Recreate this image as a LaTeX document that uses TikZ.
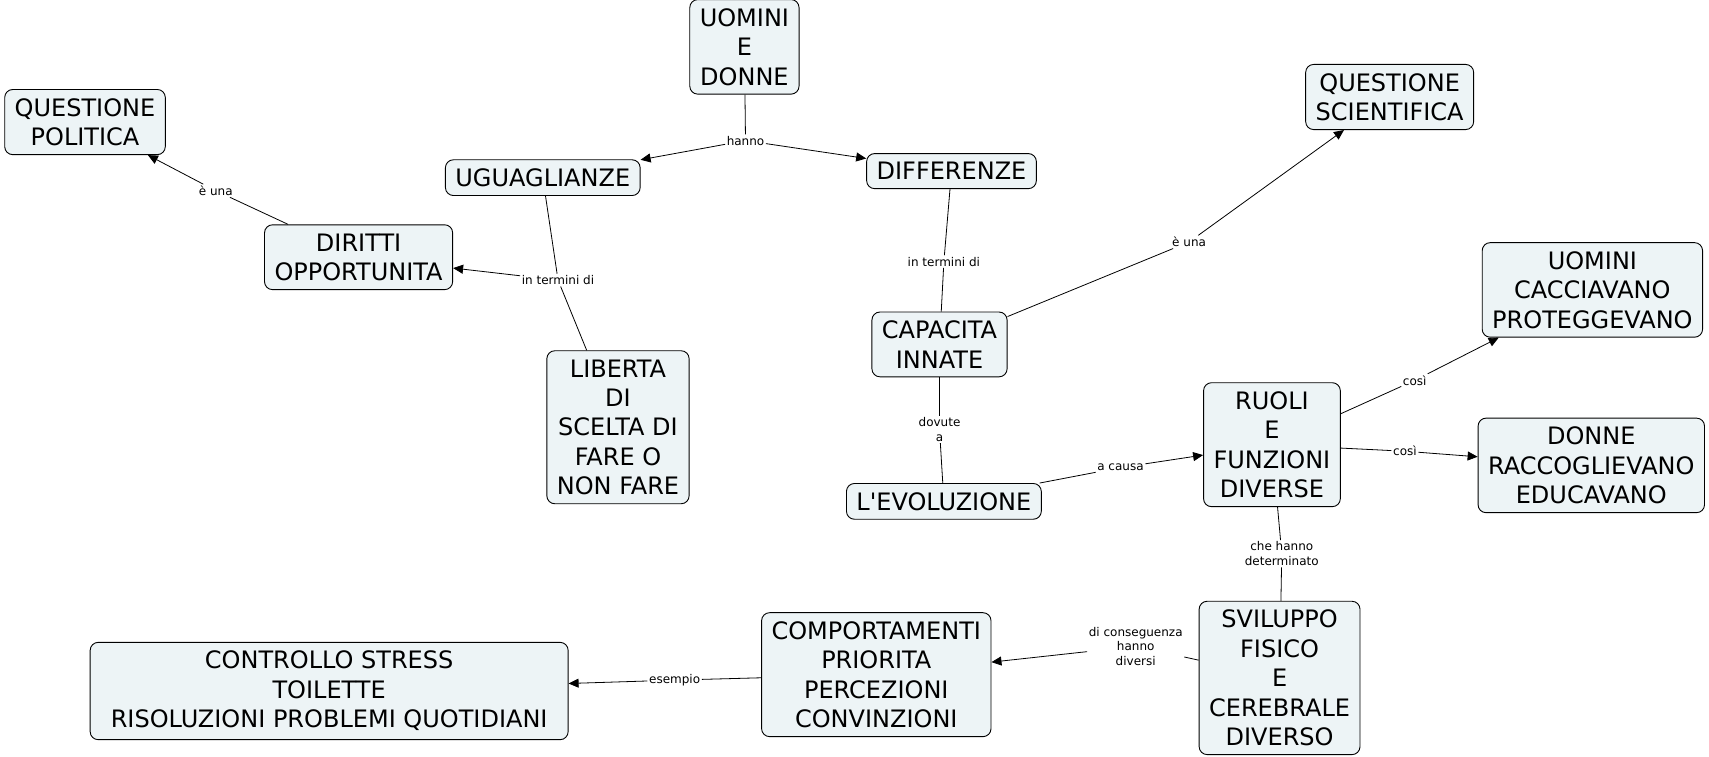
\documentclass[tikz,border=0pt]{standalone}
\usepackage{fontspec}
\setmainfont{DejaVu Sans}
\usetikzlibrary{arrows.meta}

\definecolor{conceptfill}{HTML}{EDF4F6}

\begin{document}
\begin{tikzpicture}[
            x = 1.09pt, y = -1.09pt,
            concept/.style = {draw, line width=0.9pt, rounded corners=8pt,
                    fill=conceptfill, align=center, inner xsep=10pt, inner ysep=8.8pt,
                    font=\fontsize{24}{29.4}\selectfont},
            phrase/.style = {fill=white, inner sep=1.5pt, align=center,
                    font=\fontsize{12}{14.5}\selectfont},
            every edge/.style = {draw, line width=0.8pt}]
        \useasboundingbox (0,0) rectangle (1568,694);

        % Concepts
        \node [concept] (uomdon)   at (683,43)   {UOMINI\\E\\DONNE};
        \node [concept] (qpol)     at (78,112)   {QUESTIONE\\POLITICA};
        \node [concept] (ugual)    at (498,163)  {UGUAGLIANZE};
        \node [concept] (diff)     at (873,157)  {DIFFERENZE};
        \node [concept] (qsci)     at (1275,89)  {QUESTIONE\\SCIENTIFICA};
        \node [concept] (diritti)  at (329,236)  {DIRITTI\\OPPORTUNITA};
        \node [concept] (liberta)  at (567,392)  {LIBERTA\\DI\\SCELTA DI\\FARE O\\NON FARE};
        \node [concept] (capacita) at (862,316)  {CAPACITA\\INNATE};
        \node [concept] (uomcacc)  at (1461,266) {UOMINI\\CACCIAVANO\\PROTEGGEVANO};
        \node [concept] (ruoli)    at (1167,408) {RUOLI\\E\\FUNZIONI\\DIVERSE};
        \node [concept] (donracc)  at (1460,427) {DONNE\\RACCOGLIEVANO\\EDUCAVANO};
        \node [concept] (evol)     at (866,460)  {L\textquotesingle EVOLUZIONE};
        \node [concept] (sviluppo) at (1174,622) {SVILUPPO\\FISICO\\E\\CEREBRALE\\DIVERSO};
        \node [concept] (comport)  at (804,619)  {COMPORTAMENTI\\PRIORITA\\PERCEZIONI\\CONVINZIONI};
        \node [concept, minimum width=478pt]
                        (controllo) at (302,634) {CONTROLLO STRESS\\TOILETTE\\RISOLUZIONI PROBLEMI QUOTIDIANI};

        % Linking phrases
        \node [phrase] (hanno)    at (684,129)  {hanno};
        \node [phrase] (euna-l)   at (198,175)  {è una};
        \node [phrase] (termini-l) at (512,257) {in termini di};
        \node [phrase] (termini-r) at (866,240) {in termini di};
        \node [phrase] (euna-r)   at (1091,222) {è una};
        \node [phrase] (dovute)   at (862,394)  {dovute\\a};
        \node [phrase] (causa)    at (1028,429) {a causa};
        \node [phrase] (cosi-u)   at (1298,349) {così};
        \node [phrase] (cosi-d)   at (1289,414) {così};
        \node [phrase] (determ)   at (1176,508) {che hanno\\determinato};
        \node [phrase] (conseg)   at (1042,593) {di conseguenza\\hanno\\diversi};
        \node [phrase] (esempio)  at (619,624)  {esempio};
        %%
        \draw
        (uomdon) edge (hanno)
        (diritti) edge (euna-l)
        (ugual) edge (termini-l)
        (liberta) edge (termini-l)
        (diff) edge (termini-r)
        (capacita) edge (termini-r)
        (capacita) edge (euna-r)
        (capacita) edge (dovute)
        (evol) edge (dovute)
        (evol) edge (causa)
        (ruoli) edge (cosi-u)
        (ruoli) edge (cosi-d)
        (ruoli) edge (determ)
        (sviluppo) edge (determ)
        (sviluppo) edge (conseg)
        (comport) edge (esempio);
        \draw [arrows=-{Triangle[length=10pt,width=9pt]}]
        (hanno) edge (ugual)
        (hanno) edge (diff)
        (euna-l) edge (qpol)
        (termini-l) edge (diritti)
        (euna-r) edge (qsci)
        (causa) edge (ruoli)
        (cosi-u) edge (uomcacc)
        (cosi-d) edge (donracc)
        (conseg) edge (comport)
        (esempio) edge (controllo);
    \end{tikzpicture}
\end{document}
